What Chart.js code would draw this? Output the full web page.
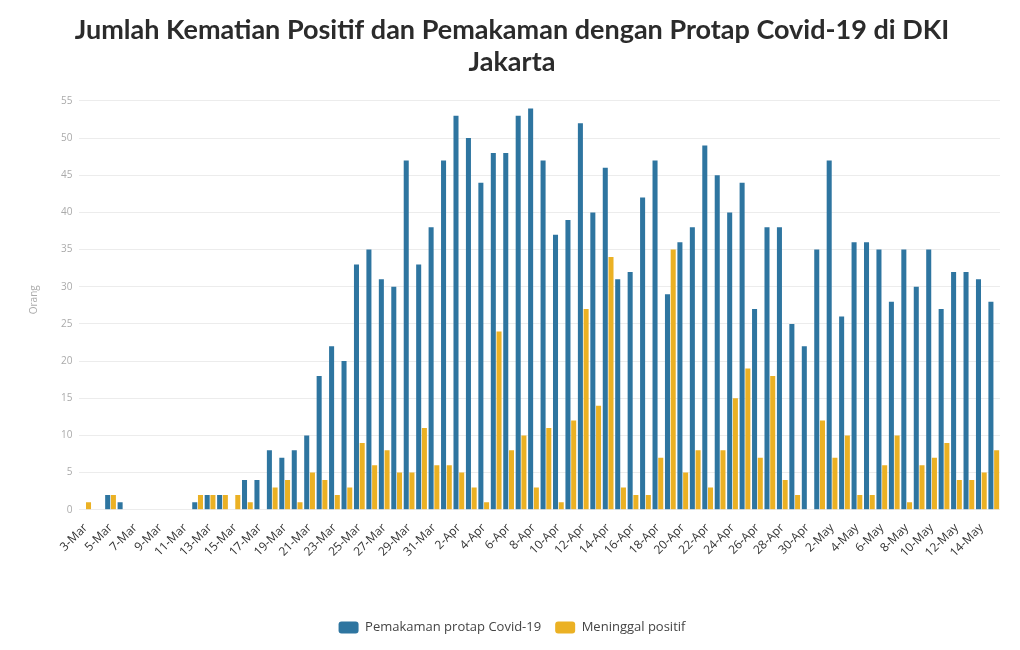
<!DOCTYPE html>
<html>
<head>
<meta charset="utf-8">
<script src="https://cdn.jsdelivr.net/npm/chart.js@4"></script>
<style>
  body { margin: 0; background: #fff; }
  #wrap { width: 1020px; height: 650px; }
</style>
</head>
<body>
<div id="wrap"><canvas id="myChart" width="1020" height="650"></canvas></div>
<script>
const dates = [
  "3-Mar","4-Mar","5-Mar","6-Mar","7-Mar","8-Mar","9-Mar","10-Mar","11-Mar","12-Mar",
  "13-Mar","14-Mar","15-Mar","16-Mar","17-Mar","18-Mar","19-Mar","20-Mar","21-Mar","22-Mar",
  "23-Mar","24-Mar","25-Mar","26-Mar","27-Mar","28-Mar","29-Mar","30-Mar","31-Mar","1-Apr",
  "2-Apr","3-Apr","4-Apr","5-Apr","6-Apr","7-Apr","8-Apr","9-Apr","10-Apr","11-Apr",
  "12-Apr","13-Apr","14-Apr","15-Apr","16-Apr","17-Apr","18-Apr","19-Apr","20-Apr","21-Apr",
  "22-Apr","23-Apr","24-Apr","25-Apr","26-Apr","27-Apr","28-Apr","29-Apr","30-Apr","1-May",
  "2-May","3-May","4-May","5-May","6-May","7-May","8-May","9-May","10-May","11-May",
  "12-May","13-May","14-May","15-May"
];

// Pemakaman protap Covid-19
const pemakaman = [
  0, 0, 2, 1, 0, 0, 0, 0, 0, 1,
  2, 2, 0, 4, 4, 8, 7, 8, 10, 18,
  22, 20, 33, 35, 31, 30, 47, 33, 38, 47,
  53, 50, 44, 48, 48, 53, 54, 47, 37, 39,
  52, 40, 46, 31, 32, 42, 47, 29, 36, 38,
  49, 45, 40, 44, 27, 38, 38, 25, 22, 35,
  47, 26, 36, 36, 35, 28, 35, 30, 35, 27,
  32, 32, 31, 28
];

// Meninggal positif
const meninggal = [
  1, 0, 2, 0, 0, 0, 0, 0, 0, 2,
  2, 2, 2, 1, 0, 3, 4, 1, 5, 4,
  2, 3, 9, 6, 8, 5, 5, 11, 6, 6,
  5, 3, 1, 24, 8, 10, 3, 11, 1, 12,
  27, 14, 34, 3, 2, 2, 7, 35, 5, 8,
  3, 8, 15, 19, 7, 18, 4, 2, 0, 12,
  7, 10, 2, 2, 6, 10, 1, 6, 7, 9,
  4, 4, 5, 8
];

const yTicks = [0, 5, 10, 15, 20, 25, 30, 35, 40, 45, 50, 55];

const ctx = document.getElementById("myChart");
const chart = new Chart(ctx, {
  type: 'bar',
  data: {
    labels: dates,
    datasets: [
      {
        label: "Pemakaman protap Covid-19",
        data: pemakaman,
        backgroundColor: '#2e75a0',
        borderWidth: 0
      },
      {
        label: "Meninggal positif",
        data: meninggal,
        backgroundColor: '#ebb124',
        borderWidth: 0
      }
    ]
  },
  options: {
    responsive: false,
    animation: false,
    datasets: {
      bar: { categoryPercentage: 0.92, barPercentage: 0.88 }
    },
    layout: { padding: { left: 24, right: 20, top: 6, bottom: 6 } },
    plugins: {
      title: {
        display: true,
        text: ["Jumlah Kematian Positif dan Pemakaman dengan Protap Covid-19 di DKI", "Jakarta"],
        color: '#2b2b2b',
        font: { family: 'Lato', size: 27, weight: 'bold' },
        lineHeight: 1.2,
        padding: { top: 8, bottom: 11 }
      },
      legend: {
        position: 'bottom',
        labels: {
          color: '#444',
          font: { family: 'Open Sans', size: 13 },
          boxWidth: 20,
          boxHeight: 12,
          useBorderRadius: true,
          borderRadius: 3,
          padding: 14
        }
      },
      tooltip: { enabled: false }
    },
    scales: {
      x: {
        grid: { display: false },
        border: { display: false },
        ticks: {
          autoSkip: false,
          minRotation: 45,
          maxRotation: 45,
          color: '#333',
          font: { family: 'Open Sans', size: 12 },
          callback: function (val, i) { return i % 2 === 0 ? dates[i] : ''; }
        },
        afterFit: function (scale) { scale.height += 44; }
      },
      y: {
        min: 0,
        max: 56.5,
        afterBuildTicks: function (axis) {
          axis.ticks = yTicks.map(v => ({ value: v }));
        },
        grid: { color: '#ececec', drawTicks: false },
        border: { display: false },
        ticks: {
          color: '#aaa',
          padding: 7,
          font: { family: 'Open Sans', size: 10 }
        },
        title: {
          display: true,
          text: 'Orang',
          color: '#aaa',
          font: { family: 'Open Sans', size: 10 },
          padding: { bottom: 14 }
        }
      }
    }
  }
});
</script>
</body>
</html>
